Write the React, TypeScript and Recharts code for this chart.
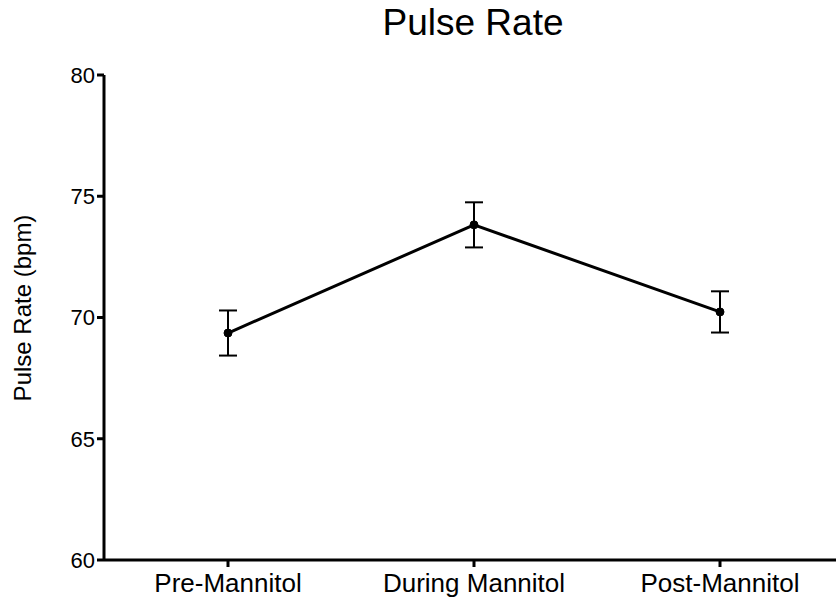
import { LineChart, Line, XAxis, YAxis, ErrorBar } from 'recharts'

const phases = ['Pre-Mannitol', 'During Mannitol', 'Post-Mannitol']
const pulseMean = [69.36, 73.82, 70.23]
const pulseSem = [0.93, 0.93, 0.85]
const yTicks = [60, 65, 70, 75, 80]

const data = phases.map((phase, i) => ({ phase, pulse: pulseMean[i], err: pulseSem[i] }))

const font = '"Liberation Sans", Arial, Helvetica, sans-serif'

export default function App() {
  return (
    <div style={{ position: 'absolute', left: 0, top: 0, width: 836, height: 599, background: '#fff', fontFamily: font }}>
      <div
        style={{
          position: 'absolute',
          left: 0,
          top: 2,
          width: 946,
          textAlign: 'center',
          fontSize: 37,
          color: '#000',
        }}
      >
        Pulse Rate
      </div>
      <LineChart width={836} height={599} data={data} margin={{ top: 75, right: 0, bottom: 0, left: 0 }}>
        <XAxis
          dataKey="phase"
          height={39}
          padding={{ left: 124, right: 116 }}
          axisLine={{ stroke: '#000', strokeWidth: 3 }}
          tickLine={{ stroke: '#000', strokeWidth: 3 }}
          tickSize={7}
          tickMargin={7}
          tick={{ fill: '#000', fontSize: 26, fontFamily: font }}
        />
        <YAxis
          width={104}
          domain={[60, 80]}
          ticks={yTicks}
          allowDataOverflow
          axisLine={{ stroke: '#000', strokeWidth: 3 }}
          tickLine={{ stroke: '#000', strokeWidth: 3 }}
          tickSize={7}
          tickMargin={2}
          tick={{ fill: '#000', fontSize: 22, fontFamily: font }}
          label={{
            content: () => (
              <text
                x={31}
                y={308}
                transform="rotate(-90 31 308)"
                textAnchor="middle"
                fontSize={24}
                fontFamily={font}
                fill="#000"
              >
                Pulse Rate (bpm)
              </text>
            ),
          }}
        />
        <Line
          dataKey="pulse"
          stroke="#000"
          strokeWidth={3}
          dot={{ r: 4, fill: '#000', stroke: '#000', strokeWidth: 1 }}
          activeDot={false}
          isAnimationActive={false}
        >
          <ErrorBar dataKey="err" width={9} stroke="#000" strokeWidth={2} isAnimationActive={false} />
        </Line>
      </LineChart>
    </div>
  )
}
